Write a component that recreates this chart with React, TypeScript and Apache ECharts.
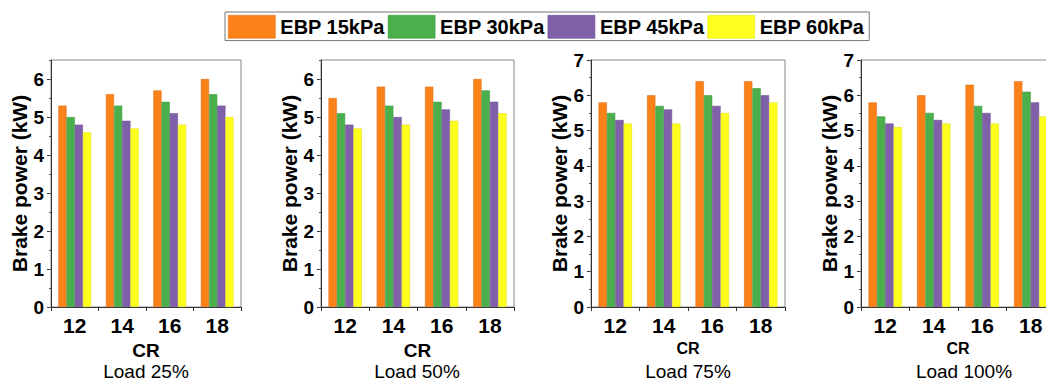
import React, { useEffect, useRef } from "react";
import * as echarts from "echarts";

// Compression ratio categories shared by every panel
const categories = ["12", "14", "16", "18"];
const seriesNames = ["EBP 15kPa", "EBP 30kPa", "EBP 45kPa", "EBP 60kPa"];
const seriesColors = ["#FA8219", "#4BB04B", "#8060A8", "#FFFF1E"];
const seriesBorders = ["#E5701A", "#3E9E3E", "#6E5096", "#E0E020"];

// Brake power (kW) per back-pressure level, one row per series
const load25 = [
  [5.3, 5.6, 5.7, 6.0],
  [5.0, 5.3, 5.4, 5.6],
  [4.8, 4.9, 5.1, 5.3],
  [4.6, 4.7, 4.8, 5.0],
];
const load50 = [
  [5.5, 5.8, 5.8, 6.0],
  [5.1, 5.3, 5.4, 5.7],
  [4.8, 5.0, 5.2, 5.4],
  [4.7, 4.8, 4.9, 5.1],
];
const load75 = [
  [5.8, 6.0, 6.4, 6.4],
  [5.5, 5.7, 6.0, 6.2],
  [5.3, 5.6, 5.7, 6.0],
  [5.2, 5.2, 5.5, 5.8],
];
const load100 = [
  [5.8, 6.0, 6.3, 6.4],
  [5.4, 5.5, 5.7, 6.1],
  [5.2, 5.3, 5.5, 5.8],
  [5.1, 5.2, 5.2, 5.4],
];

const panelData = [load25, load50, load75, load100];
const panelTitles = ["Load 25%", "Load 50%", "Load 75%", "Load 100%"];
const yMax = [6.5, 6.5, 7, 7];

// Layout of the four panels
const gridLefts = [51, 321, 591, 861];
const gridWidths = [190, 193, 194, 194];
const gridTop = 60;
const gridHeight = 247;
const crFontSizes = [19, 19, 16, 16];
const crGaps = [27, 27, 31, 31];
const titleCenters = [146, 417, 688, 964];

const FONT = "'Liberation Sans', Arial, sans-serif";

export default function App() {
  const ref = useRef<HTMLDivElement>(null);

  useEffect(() => {
    if (!ref.current) return;
    const chart = echarts.init(ref.current, undefined, { renderer: "svg" });

    const grid: any[] = [];
    const xAxis: any[] = [];
    const yAxis: any[] = [];
    const series: any[] = [];
    const graphic: any[] = [];

    panelData.forEach((rows, p) => {
      grid.push({
        left: gridLefts[p],
        top: gridTop,
        width: gridWidths[p],
        height: gridHeight,
        show: true,
        borderColor: "#8a8a8a",
        borderWidth: 1,
        backgroundColor: "transparent",
      });

      xAxis.push({
        type: "category",
        gridIndex: p,
        data: categories,
        name: "CR",
        nameLocation: "middle",
        nameGap: crGaps[p],
        nameTextStyle: {
          fontFamily: FONT,
          fontWeight: "bold",
          fontSize: crFontSizes[p],
          color: "#000",
          lineHeight: crFontSizes[p],
        },
        axisLine: { lineStyle: { color: "#333", width: 1 } },
        axisTick: { show: true, length: 4, lineStyle: { color: "#333" } },
        axisLabel: {
          margin: 8,
          fontFamily: FONT,
          fontWeight: "bold",
          fontSize: 21,
          color: "#000",
        },
        splitLine: { show: false },
      });

      const ints: number[] = [];
      for (let v = 0; v <= Math.floor(yMax[p]); v++) ints.push(v);

      // main value axis with integer ticks and labels
      yAxis.push({
        type: "value",
        gridIndex: p,
        min: 0,
        max: yMax[p],
        interval: 1,
        name: "Brake power (kW)",
        nameLocation: "middle",
        nameGap: 20,
        nameTextStyle: {
          fontFamily: FONT,
          fontWeight: "bold",
          fontSize: 21,
          color: "#000",
        },
        axisLine: { show: true, lineStyle: { color: "#333", width: 1 } },
        axisTick: {
          show: true,
          length: 4,
          customValues: ints,
          lineStyle: { color: "#333" },
        },
        axisLabel: {
          margin: 7,
          customValues: ints,
          fontFamily: FONT,
          fontWeight: "bold",
          fontSize: 19,
          color: "#000",
        },
        splitLine: { show: false },
      });

      // companion axis drawing the half-unit minor ticks
      yAxis.push({
        type: "value",
        gridIndex: p,
        position: "left",
        min: 0,
        max: yMax[p],
        interval: 0.5,
        axisLine: { show: false },
        axisTick: { show: true, length: 2, lineStyle: { color: "#555" } },
        axisLabel: { show: false },
        splitLine: { show: false },
      });

      rows.forEach((values, s) => {
        series.push({
          type: "bar",
          name: seriesNames[s],
          xAxisIndex: p,
          yAxisIndex: p * 2,
          data: values,
          barGap: "0%",
          barCategoryGap: "31%",
          itemStyle: {
            color: seriesColors[s],
            borderColor: seriesBorders[s],
            borderWidth: 0.6,
          },
        });
      });

      graphic.push({
        type: "text",
        x: titleCenters[p],
        y: 371,
        style: {
          text: panelTitles[p],
          fontFamily: FONT,
          fontSize: 19,
          lineHeight: 19,
          fill: "#000",
          textAlign: "center",
          textVerticalAlign: "middle",
        },
      });
    });

    chart.setOption({
      animation: false,
      backgroundColor: "#fff",
      legend: {
        data: seriesNames,
        left: 225,
        top: 12,
        orient: "horizontal",
        icon: "rect",
        itemWidth: 47,
        itemHeight: 23,
        itemGap: 3,
        padding: [3, 5, 2, 3],
        borderColor: "#777",
        borderWidth: 1,
        itemStyle: { borderWidth: 0.6 },
        textStyle: {
          fontFamily: FONT,
          fontWeight: "bold",
          fontSize: 20,
          color: "#000",
          padding: [0, 0, 0, 0],
        },
      },
      grid,
      xAxis,
      yAxis,
      series,
      graphic,
    });

    return () => chart.dispose();
  }, []);

  return (
    <div
      style={{
        position: "fixed",
        left: 0,
        top: 0,
        width: 1046,
        height: 381,
        overflow: "hidden",
        background: "#fff",
      }}
    >
      <div ref={ref} style={{ width: 1062, height: 381 }} />
    </div>
  );
}
